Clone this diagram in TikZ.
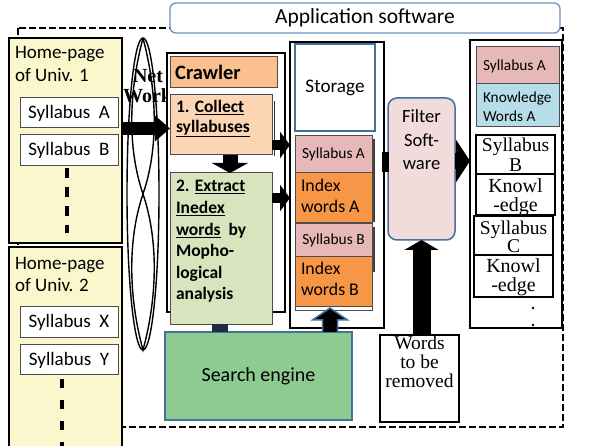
\documentclass[tikz,border=0pt]{standalone}
\usepackage{fontspec}
\setmainfont{Carlito}
\newfontfamily\serifr{Liberation Serif}
\usetikzlibrary{arrows.meta,calc}
\definecolor{uy}{HTML}{FAF7CD}
\definecolor{orc}{HTML}{FAC090}
\definecolor{cpe}{HTML}{FCD5B5}
\definecolor{grc}{HTML}{D7E4BD}
\definecolor{sec}{HTML}{8DCB91}
\definecolor{bb}{HTML}{41719C}
\definecolor{pk}{HTML}{E6B9B8}
\definecolor{ori}{HTML}{F79646}
\definecolor{flc}{HTML}{F2DCDB}
\definecolor{kb}{HTML}{B7DEE8}
\definecolor{appb}{HTML}{6F8FC4}
\definecolor{darkc}{HTML}{1F2A44}
\newcommand\myfs[2]{\fontsize{#1}{#2}\selectfont}
\begin{document}
\begin{tikzpicture}[x=1pt,y=-1pt,
  bx/.style={rectangle, inner sep=0pt, outer sep=0pt},
  thin box/.style={bx, draw=black!70, line width=1pt},
  frame/.style={bx, draw=black, line width=1.6pt, fill=white},
  tl/.style={anchor=base west, inner sep=0pt, outer sep=0pt, align=left},
  tc/.style={anchor=base, inner sep=0pt, outer sep=0pt, align=center},
  harrow/.style={line width=10pt, -{Triangle[width=26pt,length=10pt]}},
]
\useasboundingbox (0,0) rectangle (600,446);
\fill[white] (0,0) rectangle (600,446);
% dashed application frame
\draw[line width=2pt, dash pattern=on 7pt off 3pt] (18,28) rectangle (563,427);
\node[bx, draw=appb, line width=1.3pt, rounded corners=6pt, fill=white,
  minimum width=390pt, minimum height=30pt, font=\myfs{21.5}{24}] (app) at (365,18) {Application software};

% universities
\node[bx, draw=black, line width=1.8pt, fill=uy, minimum width=113pt, minimum height=205pt] (u1) at (65.5,140.5) {};
\node[tl, font=\myfs{19}{23}] (u1t) at (15,82) {Home-page\\of Univ. 1};
\node[thin box, fill=white, minimum width=98pt, minimum height=30pt, font=\myfs{19}{22}] (sa) at (69,113) {Syllabus\ \ A};
\node[thin box, fill=white, minimum width=98pt, minimum height=31pt, font=\myfs{19}{22}] (sb) at (69,150.5) {Syllabus\ \ B};
\coordinate (d1) at (67,233);
\draw[line width=3.5pt, dash pattern=on 10pt off 9pt] ($(sb.south -| d1)+(0,2)$) -- (d1);

\node[bx, draw=black, line width=1.8pt, fill=uy, minimum width=113pt, minimum height=205pt] (u2) at (65.5,349.5) {};
\node[tl, font=\myfs{19}{22}] (u2t) at (15,292) {Home-page\\of Univ. 2};
\node[thin box, fill=white, minimum width=98pt, minimum height=31pt, font=\myfs{19}{22}] (sx) at (69,322.5) {Syllabus\ \ X};
\node[thin box, fill=white, minimum width=98pt, minimum height=30pt, font=\myfs{19}{22}] (sy) at (69,360) {Syllabus\ \ Y};
\coordinate (d2) at (62,450);
\draw[line width=3.5pt, dash pattern=on 9pt off 12pt] ($(sy.south -| d2)+(0,4)$) -- (d2);

% network
\draw[line width=1.4pt] (143,194) ellipse [x radius=16pt, y radius=156pt];
\draw[line width=1.4pt] (143,38) .. controls (128,95) and (128,150) .. (143,194)
  .. controls (158,238) and (158,295) .. (143,350)
  .. controls (128,295) and (128,238) .. (143,194)
  .. controls (158,150) and (158,95) .. (143,38);
\node[anchor=base, inner sep=0pt, font=\serifr\bfseries\myfs{20}{20}] (nt1) at (148,83) {Net};
\node[anchor=base west, inner sep=0pt, font=\serifr\bfseries\myfs{20}{20}] (nt2) at (123,103) {Work};

% crawler
\node[frame, minimum width=118pt, minimum height=259pt] (cw) at (226,182.5) {};
\node[thin box, fill=orc, minimum width=107pt, minimum height=31pt] (cr) at (223.5,72.5) {};
\node[anchor=base west, inner sep=0pt, font=\bfseries\myfs{20.5}{24}] (crt) at (175,80) {Crawler};
\draw[line width=1.3pt, black!80] (274.5,101) -- (274.5,156);
\node[thin box, fill=cpe, minimum width=102pt, minimum height=60pt] (c1) at (221,125) {};
\node[tl, font=\bfseries\myfs{17.5}{19.5}] (c1t) at (176,132.5) {1. \underline{Collect}\\\underline{syllabuses}};
\node[thin box, fill=grc, minimum width=102pt, minimum height=152pt] (c2) at (221,249) {};
\node[tl, font=\bfseries\myfs{17.5}{21.6}] (c2t) at (176,300) {2. \underline{Extract}\\\underline{Inedex}\\\underline{words}\ \ by\\Mopho-\\logical\\analysis};

% search engine
\node[bx, draw=bb, line width=1.5pt, fill=sec, minimum width=187pt, minimum height=88pt, font=\myfs{20}{24}] (se) at (258.5,376) {Search engine};
\fill[darkc] ($(c2.south)+(-9,-1)$) rectangle ($(se.north -| c2.south)+(7,0)$);

% storage
\node[frame, minimum width=94pt, minimum height=286pt] (st) at (337,185) {};
\node[bx, draw=bb, line width=1.5pt, fill=white, minimum width=80pt, minimum height=87pt, font=\myfs{19.2}{22}] (stor) at (335,87.5) {Storage};
\draw[line width=1.2pt, black!75] (374,139) -- (374,222);
\draw[line width=1.2pt, black!75] (374,227) -- (374,272);
\node[thin box, fill=pk, minimum width=77pt, minimum height=37pt, font=\myfs{15.4}{18}] (ssa) at (333.5,154.5) {Syllabus A};
\node[thin box, fill=ori, minimum width=77pt, minimum height=50pt] (iwa) at (333.5,198) {};
\node[tl, font=\myfs{17.8}{21}] (iwat) at (301,213) {Index\\words A};
\node[thin box, fill=pk, minimum width=77pt, minimum height=33pt, font=\myfs{15.4}{18}] (ssb) at (333.5,240.5) {Syllabus B};
\draw[black!70, line width=1pt, fill=white] (295,257) rectangle (372,311);
\node[thin box, fill=ori, minimum width=77pt, minimum height=50pt] (iwb) at (333.5,282) {};
\node[tl, font=\myfs{17.8}{21}] (iwbt) at (301,296) {Index\\words B};

% filter
\node[bx, draw=bb, line width=1.5pt, fill=flc, rounded corners=9pt, minimum width=67pt, minimum height=142pt] (fl) at (421.5,169) {};
\node[tc, font=\myfs{18.6}{23.5}] (flt) at (421.5,170) {Filter\\Soft-\\ware};
\fill ($(st.east |- 0,152)+(-2,0)$) rectangle ($(fl.west |- 0,172)+(1,0)$);

% words to be removed
\node[bx, draw=black, line width=1.5pt, fill=white, minimum width=79pt, minimum height=87pt] (wr) at (419.5,378.5) {};
\node[tc, font=\serifr\myfs{19.5}{19}] (wrt) at (419.5,388) {Words\\to be\\removed};

% results
\node[frame, minimum width=92pt, minimum height=288pt] (res) at (516,184) {};
\node[thin box, fill=pk, minimum width=83pt, minimum height=37pt] (rsa) at (517.5,65.5) {};
\node[tl, font=\myfs{15.4}{18}] (rsat) at (483,71) {Syllabus A};
\node[thin box, fill=kb, minimum width=83pt, minimum height=43pt] (rka) at (517.5,105.5) {};
\node[tl, font=\myfs{15.3}{19}] (rkat) at (483,122) {Knowledge\\Words A};
\node[bx, draw=black, line width=1.3pt, fill=white, minimum width=79pt, minimum height=39pt] (rsb) at (515.5,154.5) {};
\node[tc, font=\serifr\myfs{19.5}{20}] (rsbt) at (515.5,172) {Syllabus\\B};
\node[bx, draw=black, line width=1.3pt, fill=white, minimum width=79pt, minimum height=41pt] (rkb) at (515.5,194.5) {};
\node[tc, font=\serifr\myfs{20}{19}] (rkbt) at (515.5,212) {Knowl\\-edge};
\node[bx, draw=black, line width=1.3pt, fill=white, minimum width=79pt, minimum height=39pt] (rsc) at (513.5,235.5) {};
\node[tc, font=\serifr\myfs{19.5}{18}] (rsct) at (513.5,253) {Syllabus\\C};
\node[bx, draw=black, line width=1.3pt, fill=white, minimum width=79pt, minimum height=42pt] (rkc) at (513.5,276) {};
\node[tc, font=\serifr\myfs{20}{19}] (rkct) at (513.5,292) {Knowl\\-edge};
\fill (533,308) circle (1.4pt);
\fill (533,325) circle (1.4pt);

% arrows
\draw[line width=13pt, -{Triangle[width=25pt,length=15pt]}] (u1.east |- 0,128.5) -- (c1.west |- 0,128.5);
\draw[harrow] (c1.east |- 0,145) -- (st.west |- 0,145);
\draw[harrow] (c2.east |- 0,198) -- (st.west |- 0,198);
\draw[line width=15pt, -{Triangle[width=36pt,length=10pt]}] ([xshift=9pt]c1.south) -- ([xshift=9pt]c2.north);
\draw[line width=16pt, -{Triangle[width=42pt,length=14pt]}] (fl.east |- 0,161) -- (res.west |- 0,161);
\draw[line width=18pt, -{Triangle[width=34pt,length=10pt]}] (fl.south |- wr.north) -- (fl.south);
\coordinate (ut) at ([xshift=-3.5pt]iwb.south);
\coordinate (ub) at (ut |- se.north);
\filldraw[fill=black, draw=bb, line width=1.5pt]
  ($(ub)+(-7.5,0)$) -- ($(ub)+(-7.5,-12)$) -- ($(ub)+(-17.5,-12)$) -- ($(ut)+(0,1)$)
  -- ($(ub)+(17.5,-12)$) -- ($(ub)+(7.5,-12)$) -- ($(ub)+(7.5,0)$);
\end{tikzpicture}
\end{document}
